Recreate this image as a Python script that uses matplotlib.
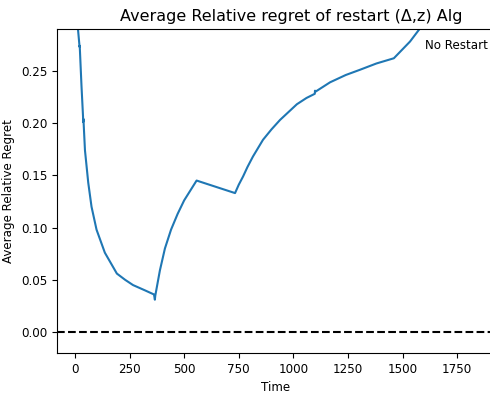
import matplotlib
matplotlib.use("Agg")
import matplotlib.pyplot as plt

# Data
time = [5, 10, 14, 20, 21, 22, 30, 37, 38, 39, 46, 61, 76, 99, 137, 192, 230, 266,
        320, 362, 366, 368,
        389, 412, 440, 470, 500, 530, 557,
        733, 750, 770, 790, 815, 861, 900, 939, 1016, 1060, 1098, 1099, 1101,
        1168, 1240, 1305, 1380, 1460, 1534, 1650]
regret = [0.42, 0.33, 0.29, 0.276, 0.273, 0.274, 0.236, 0.207, 0.201, 0.204, 0.174,
          0.143, 0.120, 0.098, 0.076, 0.056, 0.050, 0.045,
          0.040, 0.036, 0.031, 0.035,
          0.059, 0.080, 0.098, 0.113, 0.126, 0.136, 0.145,
          0.133, 0.141, 0.149, 0.158, 0.168, 0.184, 0.194, 0.203, 0.218, 0.224,
          0.228, 0.231, 0.230,
          0.239, 0.246, 0.251, 0.257, 0.262, 0.278, 0.31]
xticks = [0, 250, 500, 750, 1000, 1250, 1500, 1750]
yticks = [0.00, 0.05, 0.10, 0.15, 0.20, 0.25]

DPI = 100
FS = 8.6
plt.rcParams.update({"font.size": FS, "xtick.labelsize": FS, "ytick.labelsize": FS,
                     "axes.labelsize": FS})
fig = plt.figure(figsize=(490 / DPI, 394 / DPI), dpi=DPI)
# the reference figure is cropped on the right: the axes run just past the image edge
ax = fig.add_axes([57 / 490, 1 - 353 / 394, (495 - 57) / 490, (353 - 29) / 394])
ax.plot(time, regret, color="#1f77b4", lw=1.5)
ax.axhline(0, color="black", ls="--", lw=1.5)
ax.text(1602, 0.274, "No Restart", ha="left", va="center", fontsize=FS)
ax.set_xlim(-82, 1923)
ax.set_ylim(-0.02, 0.29)
ax.set_xticks(xticks)
ax.set_yticks(yticks)
ax.set_title("Average Relative regret of restart (\u0394,z) Alg", fontsize=11.5,
             x=(291 - 57) / (495 - 57))
ax.set_xlabel("Time")
ax.set_ylabel("Average Relative Regret")
fig.savefig("out.png", dpi=DPI)
